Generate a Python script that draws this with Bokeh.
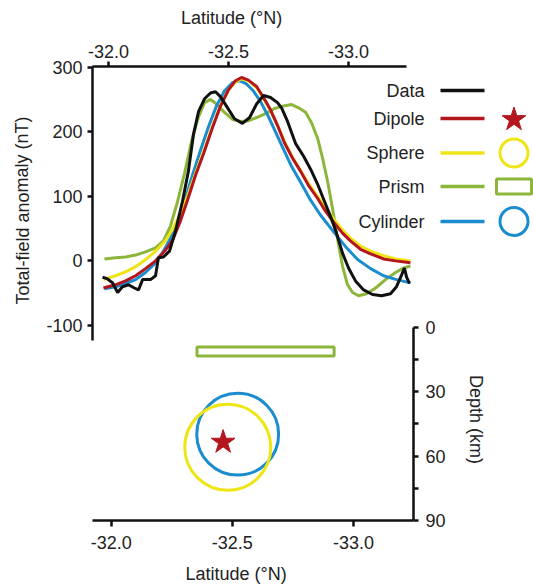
import math
from bokeh.plotting import figure
from bokeh.models import Range1d, LinearAxis, FixedTicker, PrintfTickFormatter
from bokeh.core.properties import value
from bokeh.embed import file_html
from bokeh.resources import INLINE

# ---------------- data ----------------
data_lat = [-31.975, -31.996, -32.017, -32.038, -32.058, -32.083, -32.108, -32.125, -32.142,
            -32.175, -32.196, -32.208, -32.229, -32.254, -32.279, -32.308, -32.333, -32.354,
            -32.375, -32.400, -32.425, -32.446, -32.467, -32.496, -32.525, -32.558, -32.588,
            -32.617, -32.646, -32.675, -32.704, -32.721, -32.746, -32.779, -32.813, -32.842,
            -32.871, -32.900, -32.925, -32.950, -32.975, -33.000, -33.029, -33.063, -33.100,
            -33.138, -33.175, -33.200, -33.221, -33.233, -33.242, -33.254]
data_nt = [-25, -28, -34, -49, -40, -37, -42, -45, -29,
           -29, -23, 5, 6, 15, 46, 92, 139, 196,
           231, 251, 260, 262, 254, 237, 220, 213, 222,
           243, 256, 253, 245, 237, 216, 182, 162, 142,
           119, 92, 69, 43, 12, -11, -31, -45, -52,
           -54, -51, -40, -22, -11, -25, -35]

model_lat = [-31.979, -32.029, -32.071, -32.113, -32.154, -32.196, -32.238, -32.267, -32.300,
             -32.329, -32.363, -32.396, -32.433, -32.467, -32.500, -32.529, -32.554, -32.583,
             -32.617, -32.646, -32.675, -32.704, -32.733, -32.767, -32.800, -32.833, -32.871,
             -32.904, -32.938, -32.975, -33.008, -33.050, -33.092, -33.146, -33.196, -33.258]
dipole_nt = [-42, -37, -31, -23, -12, 0, 17, 32, 62,
             94, 133, 166, 206, 240, 265, 279, 284, 280,
             270, 253, 234, 210, 183, 159, 139, 117, 97,
             77, 60, 43, 31, 18, 11, 3, 0, -3]
sphere_nt = [-29, -23, -17, -9, 2, 15, 32, 49, 74,
             100, 136, 169, 208, 240, 265, 277, 282, 279,
             268, 251, 233, 210, 185, 160, 140, 120, 100,
             82, 65, 48, 35, 23, 15, 8, 3, 0]

cyl_lat = [-31.983, -32.029, -32.071, -32.113, -32.154, -32.196, -32.229, -32.258, -32.288,
           -32.317, -32.350, -32.383, -32.417, -32.450, -32.483, -32.517, -32.546, -32.575,
           -32.604, -32.633, -32.663, -32.692, -32.725, -32.763, -32.800, -32.842, -32.883,
           -32.938, -32.988, -33.038, -33.092, -33.146, -33.200, -33.258]
cyl_nt = [-43, -40, -35, -29, -18, -3, 15, 35, 62,
          92, 133, 171, 208, 240, 263, 276, 279, 274,
          263, 247, 226, 203, 176, 146, 122, 94, 71,
          45, 22, 2, -12, -23, -29, -34]

prism_lat = [-31.983, -32.029, -32.071, -32.113, -32.154, -32.196, -32.229, -32.258, -32.288,
             -32.317, -32.346, -32.375, -32.400, -32.425, -32.450, -32.483, -32.517, -32.550,
             -32.583, -32.617, -32.654, -32.692, -32.729, -32.763, -32.792, -32.821, -32.846,
             -32.871, -32.892, -32.913, -32.933, -32.954, -32.975, -32.996, -33.017, -33.042,
             -33.075, -33.113, -33.154, -33.196, -33.229, -33.258]
prism_nt = [3, 5, 6, 9, 14, 20, 31, 54, 92,
            136, 185, 223, 245, 250, 243, 230, 219, 216,
            217, 222, 228, 236, 240, 242, 237, 230, 214,
            190, 159, 123, 82, 35, -8, -37, -49, -54,
            -51, -42, -29, -18, -11, -8]

# source bodies (latitude, depth km)
prism_box_lat = [-32.354, -32.920]
prism_box_depth = [9.2, 13.4]
sphere_lat, sphere_depth, sphere_r = -32.481, 55.9, 0.1775
cyl_lat_c, cyl_depth_c, cyl_r = -32.522, 49.8, 0.169
dipole_lat, dipole_depth = -32.462, 53.5

lat_ticks = [-32.0, -32.5, -33.0]
nt_ticks = [-100, 0, 100, 200, 300]
depth_ticks = [0, 30, 60, 90]
depth_minor = [15, 45, 75]

legend_names = ["Data", "Dipole", "Sphere", "Prism", "Cylinder"]
x_title = "Latitude (°N)"
y_title = "Total-field anomaly (nT)"
depth_title = "Depth (km)"

# ---------------- style ----------------
BLACK = "#111111"
RED = "#b3161d"
YELLOW = "#f0e514"
GREEN = "#8cb63a"
BLUE = "#1b8dcf"
TXT = "#222222"
FONT = "Liberation Sans"
FS = "18px"

# frame occupies x 92..413, y 66..520 of the 533x587 canvas
p = figure(width=533, height=587, output_backend="svg", toolbar_location=None,
           x_range=Range1d(-31.9333, -33.2708), y_range=Range1d(-402, 301),
           x_axis_location=None, y_axis_location=None,
           min_border_left=92, min_border_right=120, min_border_top=66, min_border_bottom=67)
# "lx"/"ly" are canvas-pixel ranges used for legend and title placement
p.extra_x_ranges = {"xb": Range1d(-31.9228, -33.2476), "lx": Range1d(92, 413)}
p.extra_y_ranges = {"depth": Range1d(90, -121.4), "ly": Range1d(520, 66)}
p.outline_line_color = None
p.background_fill_color = "white"
p.border_fill_color = "white"
p.xgrid.visible = False
p.ygrid.visible = False


def style(ax):
    ax.axis_line_width = 2.5
    ax.axis_line_color = BLACK
    ax.major_tick_line_width = 2.5
    ax.major_tick_line_color = BLACK
    ax.major_tick_out = 5
    ax.major_tick_in = 0
    ax.minor_tick_out = 0
    ax.minor_tick_in = 0
    ax.major_label_text_font = FONT
    ax.major_label_text_font_size = FS
    ax.major_label_text_color = TXT


top = LinearAxis(ticker=FixedTicker(ticks=lat_ticks), formatter=PrintfTickFormatter(format="%.1f"),
                 bounds=(-33.2417, -31.9333))
style(top)
top.major_label_standoff = 4
p.add_layout(top, "above")

left = LinearAxis(ticker=FixedTicker(ticks=nt_ticks), formatter=PrintfTickFormatter(format="%d"),
                  bounds=(-123, 301))
style(left)
left.major_label_standoff = 5
p.add_layout(left, "left")

right = LinearAxis(y_range_name="depth", ticker=FixedTicker(ticks=depth_ticks, minor_ticks=depth_minor),
                   formatter=PrintfTickFormatter(format="%d"), bounds=(0, 90))
style(right)
right.minor_tick_out = 5
right.minor_tick_line_width = 2.5
right.minor_tick_line_color = BLACK
right.major_label_standoff = 7
p.add_layout(right, "right")

bottom = LinearAxis(x_range_name="xb", ticker=FixedTicker(ticks=lat_ticks),
                    formatter=PrintfTickFormatter(format="%.1f"))
style(bottom)
bottom.major_tick_out = 6
bottom.major_label_standoff = 9
p.add_layout(bottom, "below")

# axis titles (placed in canvas pixels)
titles = [x_title, x_title, y_title, depth_title]
title_x = [231, 235.5, 22, 475]
title_y = [17, 573, 210, 419]
title_angle = [0, 0, math.pi / 2, -math.pi / 2]
p.text(x=title_x, y=title_y, text=titles, angle=title_angle, x_range_name="lx", y_range_name="ly",
       text_align="center", text_baseline="middle", text_font=value(FONT),
       text_font_size=FS, text_color=TXT, level="overlay")

# ---------------- anomaly curves ----------------
p.line(prism_lat, prism_nt, line_color=GREEN, line_width=3)
p.line(cyl_lat, cyl_nt, line_color=BLUE, line_width=3)
p.line(model_lat, sphere_nt, line_color=YELLOW, line_width=3)
p.line(model_lat, dipole_nt, line_color=RED, line_width=3)
p.line(data_lat, data_nt, line_color=BLACK, line_width=3)

# ---------------- source bodies ----------------
p.quad(left=[prism_box_lat[0]], right=[prism_box_lat[1]], top=[prism_box_depth[0]],
       bottom=[prism_box_depth[1]], fill_color=None, line_color=GREEN, line_width=3,
       x_range_name="xb", y_range_name="depth")
p.circle(x=[cyl_lat_c], y=[cyl_depth_c], radius=cyl_r, fill_color=None, line_color=BLUE,
         line_width=3, x_range_name="xb", y_range_name="depth")
p.circle(x=[sphere_lat], y=[sphere_depth], radius=sphere_r, fill_color=None, line_color=YELLOW,
         line_width=3, x_range_name="xb", y_range_name="depth")
p.scatter(x=[dipole_lat], y=[dipole_depth], marker="star", size=25, fill_color=RED,
          line_color=RED, x_range_name="xb", y_range_name="depth")

# ---------------- legend (canvas-pixel ranges) ----------------
row_y = [90, 118, 152.5, 186, 221]
line_colors = [BLACK, RED, YELLOW, GREEN, BLUE]
key_x = 513.5
p.text(x=[424] * 5, y=row_y, text=legend_names, x_range_name="lx", y_range_name="ly",
       text_align="right", text_baseline="middle", text_font=value(FONT),
       text_font_size=FS, text_color=TXT, level="overlay")
p.segment(x0=[440] * 5, x1=[484] * 5, y0=row_y, y1=row_y, line_color=line_colors,
          line_width=3.5, x_range_name="lx", y_range_name="ly", level="overlay")
# star key (5-pointed polygon around the key centre)
R_out, R_in = 12.5, 12.5 * 0.382
star_x = [key_x + (R_out if k % 2 == 0 else R_in) * math.sin(k * math.pi / 5) for k in range(10)]
star_y = [row_y[1] + 1 - (R_out if k % 2 == 0 else R_in) * math.cos(k * math.pi / 5) for k in range(10)]
p.patch(star_x, star_y, fill_color=RED, line_color=RED, line_width=1,
        x_range_name="lx", y_range_name="ly", level="overlay")
p.ellipse(x=[key_x, key_x], y=[row_y[2], row_y[4]], width=28, height=28,
          fill_color=None, line_color=[YELLOW, BLUE], line_width=3,
          x_range_name="lx", y_range_name="ly", level="overlay")
p.rect(x=[key_x], y=[row_y[3]], width=35, height=15, fill_color=None, line_color=GREEN,
       line_width=3, x_range_name="lx", y_range_name="ly", level="overlay")

open("out.html", "w").write(file_html(p, INLINE))
